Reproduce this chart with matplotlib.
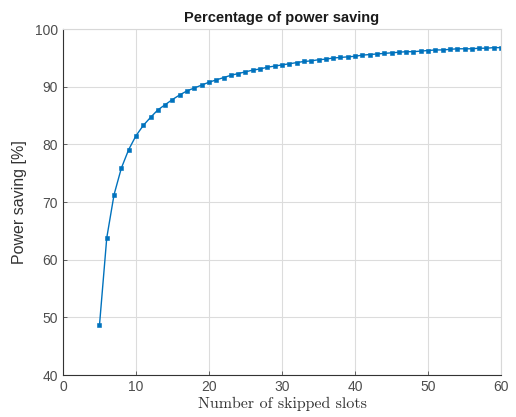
import numpy as np
import matplotlib.pyplot as plt

# skipped slots and power saving
slots = list(range(5, 61))
saving = [48.6, 63.8, 71.3, 75.9, 79.1, 81.5, 83.3, 84.7, 86.0, 86.9,
          87.8, 88.6, 89.3, 89.8, 90.3, 90.8,
          91.2, 91.6, 92.0, 92.3, 92.6, 92.9, 93.1, 93.4, 93.6, 93.8,
          94.0, 94.2, 94.4, 94.5, 94.7, 94.8, 95.0, 95.1, 95.2, 95.3,
          95.5, 95.6, 95.7, 95.8, 95.9, 96.0, 96.1, 96.1, 96.2, 96.3,
          96.4, 96.4, 96.5, 96.6, 96.6, 96.6, 96.7, 96.7, 96.8, 96.8]
xticks = [0, 10, 20, 30, 40, 50, 60]
yticks = [40, 50, 60, 70, 80, 90, 100]


def main():
    plt.rcParams['font.family'] = ['Liberation Sans', 'DejaVu Sans']
    fig = plt.figure(figsize=(5.16, 4.17), dpi=100)
    ax = fig.add_axes([0.122, 0.1007, 0.849, 0.8293])

    ax.plot(slots, saving, color='#0072BD', lw=1.0, marker='s',
            markersize=2.3, markeredgewidth=0.4, markeredgecolor='#0072BD')

    ax.set_xlim(0, 60)
    ax.set_ylim(40, 100)
    ax.set_xticks(xticks)
    ax.set_yticks(yticks)
    ax.grid(True, color='#dcdcdc', lw=0.8)
    ax.set_axisbelow(True)
    ax.tick_params(direction='in', length=3, labelsize=10,
                   colors='#4d4d4d', width=0.6)
    for side in ['left', 'bottom']:
        ax.spines[side].set_color('#333333')
        ax.spines[side].set_linewidth(0.8)
    for side in ['top', 'right']:
        ax.spines[side].set_color('#d8d8d8')
        ax.spines[side].set_linewidth(0.8)

    ax.set_title('Percentage of power saving', fontsize=10.5,
                 fontweight='bold', pad=5, color='#1a1a1a')
    ax.set_ylabel('Power saving [%]', fontsize=11.5, color='#333333',
                  labelpad=6)
    ax.set_xlabel('Number of skipped slots', fontsize=11.5, color='#333333',
                  family='cmr10', labelpad=2)

    fig.savefig('out.png', dpi=100)


if __name__ == "__main__":
    main()
